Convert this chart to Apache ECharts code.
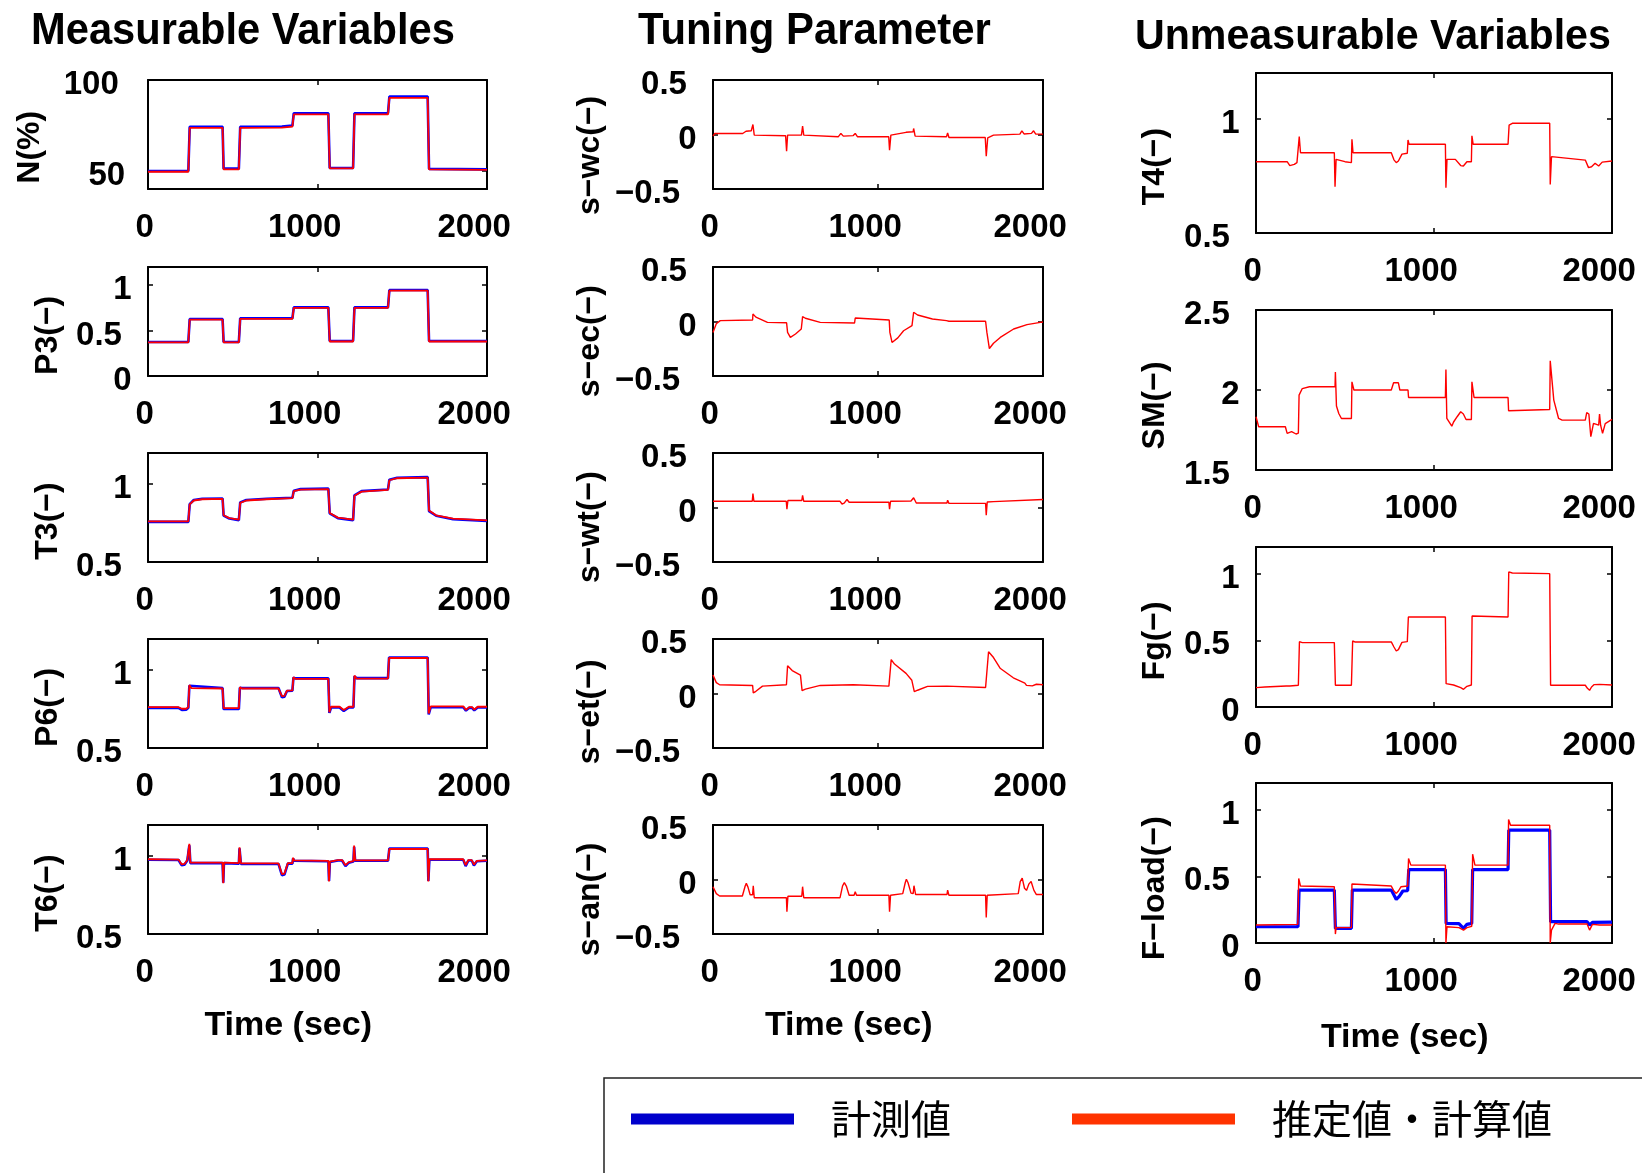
<!DOCTYPE html>
<html><head><meta charset="utf-8">
<script src="https://cdn.jsdelivr.net/npm/echarts@6/dist/echarts.min.js"></script>
<style>html,body{margin:0;padding:0;background:#fff}#c{width:1642px;height:1173px}</style>
</head><body><div id="c"></div>
<script>
// ---------------- DATA (time [s], value) ----------------
const xTicks = [0, 1000, 2000];
const yTicks_N = [50, 100];
const yTicks_P3 = [0, 0.5, 1];
const yTicks_T = [0.5, 1];
const yTicks_S = [-0.5, 0, 0.5];
const yTicks_SM = [1.5, 2, 2.5];
const yTicks_F = [0, 0.5, 1];

const N_est = [[0,49.5],[238,49.5],[246,73.7],[440,73.7],[446,50.8],[536,50.8],[544,73.7],[790,73.8],[800,74.3],[852,74.3],[860,81.1],[1064,81.1],[1072,51.3],[1210,51.3],[1218,81.1],[1416,81.1],[1424,90.2],[1650,90.2],[1658,50.8],[2000,50.5]];
const N_meas = [[0,49.9],[238,49.9],[246,74.3],[440,74.3],[446,51.2],[536,51.2],[544,74.2],[790,74.4],[800,74.9],[852,74.9],[860,81.7],[1064,81.7],[1072,51.6],[1210,51.6],[1218,81.7],[1416,81.7],[1424,90.9],[1650,90.9],[1658,51.1],[2000,50.8]];

const P3_est = [[0,0.37],[238,0.37],[246,0.62],[440,0.62],[446,0.37],[536,0.37],[544,0.63],[852,0.63],[860,0.75],[1064,0.75],[1072,0.38],[1210,0.38],[1218,0.75],[1416,0.75],[1424,0.94],[1650,0.94],[1658,0.38],[2000,0.38]];
const P3_meas = [[0,0.375],[238,0.375],[246,0.627],[440,0.627],[446,0.375],[536,0.375],[544,0.636],[852,0.636],[860,0.756],[1064,0.756],[1072,0.386],[1210,0.386],[1218,0.756],[1416,0.756],[1424,0.946],[1650,0.946],[1658,0.385],[2000,0.385]];

const T3_est = [[0,0.761],[238,0.761],[246,0.87],[270,0.895],[320,0.903],[440,0.906],[446,0.80],[480,0.782],[536,0.772],[544,0.88],[580,0.895],[700,0.903],[852,0.91],[860,0.955],[900,0.965],[1064,0.968],[1072,0.815],[1120,0.785],[1210,0.772],[1218,0.925],[1260,0.952],[1416,0.963],[1424,1.025],[1470,1.038],[1650,1.042],[1658,0.83],[1700,0.80],[1800,0.778],[2000,0.767]];
const T3_meas = [[0,0.758],[238,0.758],[246,0.872],[270,0.898],[320,0.906],[440,0.908],[446,0.798],[480,0.779],[536,0.769],[544,0.883],[580,0.898],[700,0.906],[852,0.913],[860,0.958],[900,0.968],[1064,0.971],[1072,0.812],[1120,0.782],[1210,0.769],[1218,0.928],[1260,0.955],[1416,0.966],[1424,1.028],[1470,1.041],[1650,1.045],[1658,0.827],[1700,0.797],[1800,0.775],[2000,0.764]];

const P6_est = [[0,0.762],[180,0.762],[200,0.752],[225,0.752],[238,0.762],[244,0.905],[255,0.885],[440,0.882],[446,0.756],[536,0.756],[542,0.89],[555,0.882],[770,0.882],[790,0.833],[805,0.835],[820,0.868],[852,0.87],[858,0.955],[870,0.944],[1064,0.944],[1070,0.73],[1080,0.765],[1130,0.765],[1155,0.744],[1185,0.765],[1212,0.765],[1218,0.965],[1230,0.946],[1416,0.946],[1422,1.078],[1650,1.078],[1656,0.722],[1668,0.767],[1860,0.767],[1876,0.745],[1895,0.762],[1912,0.762],[1925,0.747],[1945,0.765],[2000,0.765]];
const P6_meas = [[0,0.758],[180,0.758],[200,0.745],[225,0.746],[238,0.758],[244,0.9],[255,0.888],[440,0.885],[446,0.75],[536,0.75],[542,0.886],[555,0.885],[770,0.885],[790,0.826],[805,0.83],[820,0.866],[852,0.868],[858,0.952],[870,0.947],[1064,0.947],[1070,0.725],[1080,0.76],[1130,0.76],[1155,0.738],[1185,0.76],[1212,0.76],[1218,0.96],[1230,0.949],[1416,0.949],[1422,1.081],[1650,1.081],[1656,0.716],[1668,0.762],[1860,0.762],[1876,0.74],[1895,0.758],[1912,0.758],[1925,0.742],[1945,0.76],[2000,0.76]];

const T6_est = [[0,0.98],[180,0.978],[198,0.948],[215,0.95],[232,0.975],[244,1.079],[250,0.958],[440,0.958],[444,0.826],[448,0.958],[536,0.955],[540,1.057],[548,0.953],[770,0.953],[790,0.885],[805,0.888],[825,0.955],[852,0.955],[856,0.99],[862,0.973],[1064,0.97],[1068,0.837],[1073,0.965],[1120,0.975],[1145,0.975],[1165,0.942],[1185,0.962],[1212,0.968],[1216,1.068],[1222,0.973],[1416,0.973],[1424,1.046],[1650,1.046],[1654,0.837],[1660,0.98],[1860,0.98],[1874,0.942],[1890,0.975],[1910,0.975],[1923,0.945],[1940,0.97],[2000,0.973]];
const T6_meas = [[0,0.977],[180,0.975],[198,0.942],[215,0.945],[232,0.972],[244,1.07],[250,0.955],[440,0.955],[444,0.83],[448,0.955],[536,0.952],[540,1.05],[548,0.95],[770,0.95],[790,0.878],[805,0.882],[825,0.952],[852,0.952],[856,0.985],[862,0.97],[1064,0.967],[1068,0.84],[1073,0.962],[1120,0.972],[1145,0.972],[1165,0.936],[1185,0.958],[1212,0.965],[1216,1.06],[1222,0.97],[1416,0.97],[1424,1.049],[1650,1.049],[1654,0.84],[1660,0.977],[1860,0.977],[1874,0.936],[1890,0.972],[1910,0.972],[1923,0.94],[1940,0.967],[2000,0.97]];

const s_wc = [[0,-0.015],[10,0.009],[180,0.009],[200,0.03],[232,0.034],[242,0.092],[250,-0.006],[440,-0.012],[446,-0.153],[452,-0.006],[536,-0.006],[543,0.077],[550,-0.006],[760,-0.02],[775,0.01],[790,-0.015],[850,-0.01],[862,0.01],[875,-0.02],[1065,-0.02],[1070,-0.144],[1078,-0.006],[1170,0.02],[1213,0.025],[1216,0.055],[1225,-0.015],[1415,-0.02],[1422,0.015],[1430,-0.028],[1650,-0.028],[1656,-0.2],[1665,-0.03],[1700,-0.006],[1860,0.003],[1872,0.034],[1885,0.005],[1930,0.01],[1943,0.034],[1955,0.005],[2000,0.003]];
const s_ec = [[0,-0.1],[20,-0.02],[44,0.008],[240,0.014],[242,0.069],[260,0.04],[330,-0.008],[446,-0.012],[452,-0.1],[469,-0.146],[500,-0.115],[535,-0.069],[543,0.045],[560,0.03],[650,-0.008],[858,-0.014],[862,0.032],[870,0.014],[1068,0.014],[1072,-0.1],[1085,-0.192],[1120,-0.15],[1155,-0.085],[1206,-0.038],[1216,0.085],[1240,0.06],[1330,0.023],[1415,0.008],[1422,0.02],[1430,0.002],[1652,0.002],[1660,-0.1],[1675,-0.248],[1700,-0.2],[1741,-0.146],[1822,-0.069],[1903,-0.029],[1984,-0.008],[2000,-0.005]];
const s_wt = [[0,0.057],[238,0.057],[242,0.127],[248,0.057],[444,0.057],[448,-0.016],[454,0.064],[538,0.064],[543,0.111],[550,0.057],[770,0.057],[782,0.032],[795,0.04],[812,0.073],[825,0.048],[1066,0.048],[1070,-0.016],[1076,0.057],[1200,0.06],[1216,0.089],[1232,0.041],[1418,0.041],[1422,0.067],[1430,0.038],[1652,0.038],[1656,-0.07],[1662,0.05],[1700,0.054],[2000,0.073]];
const s_et = [[0,0.169],[20,0.1],[40,0.08],[240,0.074],[244,0.005],[260,0.02],[300,0.068],[445,0.08],[452,0.254],[480,0.21],[530,0.169],[540,0.027],[560,0.04],[650,0.074],[850,0.08],[860,0.068],[1066,0.068],[1080,0.311],[1100,0.27],[1170,0.185],[1205,0.121],[1220,0.017],[1240,0.03],[1300,0.065],[1418,0.068],[1424,0.055],[1652,0.055],[1670,0.383],[1700,0.33],[1740,0.232],[1820,0.144],[1890,0.096],[1900,0.075],[1935,0.07],[1960,0.085],[2000,0.08]];
const s_an = [[0,-0.066],[20,-0.13],[40,-0.151],[178,-0.151],[195,-0.06],[202,-0.035],[212,-0.07],[225,-0.14],[240,-0.14],[244,-0.057],[250,-0.167],[445,-0.167],[448,-0.296],[454,-0.154],[538,-0.154],[543,-0.066],[550,-0.167],[770,-0.167],[785,-0.06],[796,-0.028],[808,-0.06],[825,-0.145],[855,-0.145],[862,-0.113],[870,-0.145],[1066,-0.145],[1070,-0.296],[1076,-0.145],[1150,-0.13],[1165,-0.03],[1172,0.003],[1182,-0.03],[1200,-0.125],[1213,-0.13],[1218,-0.057],[1228,-0.138],[1418,-0.138],[1422,-0.097],[1430,-0.145],[1652,-0.145],[1656,-0.349],[1662,-0.145],[1850,-0.13],[1862,-0.02],[1874,0.013],[1888,-0.08],[1900,-0.1],[1915,-0.04],[1928,-0.019],[1945,-0.1],[1960,-0.138],[2000,-0.138]];

const T4 = [[0,0.812],[175,0.812],[190,0.795],[200,0.79],[215,0.8],[230,0.808],[240,0.812],[243,0.922],[250,0.851],[440,0.851],[444,0.702],[450,0.822],[500,0.812],[536,0.808],[539,0.91],[545,0.851],[760,0.851],[775,0.82],[788,0.808],[800,0.815],[820,0.845],[850,0.849],[854,0.907],[860,0.888],[1064,0.888],[1067,0.698],[1073,0.822],[1120,0.822],[1150,0.795],[1165,0.793],[1185,0.812],[1210,0.812],[1213,0.925],[1220,0.888],[1416,0.888],[1422,0.972],[1440,0.98],[1650,0.98],[1653,0.712],[1660,0.834],[1850,0.819],[1868,0.786],[1885,0.79],[1905,0.805],[1925,0.793],[1945,0.81],[2000,0.815]];
const SM = [[0,1.833],[15,1.77],[165,1.77],[175,1.729],[200,1.74],[225,1.725],[238,1.73],[242,1.968],[260,2.009],[300,2.02],[444,2.02],[446,2.113],[452,1.9],[465,1.853],[480,1.822],[536,1.822],[539,2.051],[550,2.0],[760,2.0],[773,2.045],[800,2.045],[808,2.0],[854,2.0],[857,1.953],[1064,1.953],[1067,2.128],[1072,1.822],[1100,1.774],[1110,1.8],[1130,1.833],[1150,1.864],[1165,1.85],[1180,1.816],[1210,1.816],[1213,2.051],[1225,1.953],[1416,1.953],[1419,1.87],[1430,1.878],[1650,1.878],[1653,2.182],[1673,1.937],[1700,1.822],[1720,1.812],[1850,1.812],[1858,1.858],[1870,1.85],[1881,1.708],[1896,1.791],[1925,1.78],[1930,1.85],[1936,1.78],[1947,1.729],[1962,1.79],[2000,1.816]];
const Fg = [[0,0.145],[50,0.15],[170,0.158],[180,0.17],[190,0.158],[238,0.163],[244,0.49],[260,0.483],[440,0.483],[446,0.163],[536,0.163],[543,0.495],[555,0.488],[760,0.488],[775,0.45],[788,0.42],[800,0.43],[820,0.485],[850,0.49],[856,0.675],[1064,0.675],[1068,0.175],[1110,0.165],[1150,0.145],[1166,0.133],[1185,0.155],[1210,0.165],[1214,0.683],[1225,0.675],[1416,0.675],[1420,1.013],[1440,1.005],[1650,1.0],[1655,0.163],[1850,0.163],[1862,0.14],[1874,0.125],[1885,0.15],[1900,0.168],[1930,0.17],[2000,0.165]];
const Fload_est = [[0,0.135],[235,0.14],[240,0.484],[250,0.427],[440,0.422],[446,0.067],[450,0.115],[536,0.115],[539,0.442],[550,0.427],[760,0.427],[775,0.39],[788,0.372],[800,0.39],[815,0.422],[852,0.427],[857,0.634],[870,0.584],[1064,0.584],[1067,0],[1073,0.122],[1140,0.115],[1166,0.097],[1185,0.115],[1212,0.125],[1217,0.666],[1230,0.584],[1416,0.584],[1419,0.926],[1430,0.883],[1650,0.883],[1653,0],[1660,0.097],[1680,0.147],[1700,0.142],[1860,0.142],[1874,0.097],[1890,0.14],[1930,0.135],[2000,0.135]];
const Fload_meas = [[0,0.122],[236,0.122],[242,0.397],[440,0.397],[446,0.11],[536,0.11],[541,0.397],[760,0.397],[775,0.36],[788,0.327],[805,0.35],[825,0.39],[852,0.392],[858,0.551],[1064,0.551],[1068,0.147],[1140,0.145],[1166,0.11],[1185,0.14],[1212,0.147],[1217,0.551],[1416,0.551],[1420,0.846],[1650,0.846],[1655,0.16],[1860,0.16],[1874,0.135],[1890,0.155],[2000,0.157]];

const titles = ['Measurable Variables', 'Tuning Parameter', 'Unmeasurable Variables'];
const xName = 'Time (sec)';
const legendNames = ['計測値', '推定値・計算値'];

// ---------------- PANELS ----------------
const panels = [
  {label:'N(%)',   col:0,row:0, yMin:40, yMax:100, yTicks:yTicks_N,  meas:N_meas,  est:N_est},
  {label:'P3(−)',  col:0,row:1, yMin:0,  yMax:1.2, yTicks:yTicks_P3, meas:P3_meas, est:P3_est},
  {label:'T3(−)',  col:0,row:2, yMin:0.5,yMax:1.2, yTicks:yTicks_T,  meas:T3_meas, est:T3_est},
  {label:'P6(−)',  col:0,row:3, yMin:0.5,yMax:1.2, yTicks:yTicks_T,  meas:P6_meas, est:P6_est},
  {label:'T6(−)',  col:0,row:4, yMin:0.5,yMax:1.2, yTicks:yTicks_T,  meas:T6_meas, est:T6_est, last:true},
  {label:'s−wc(−)',col:1,row:0, yMin:-0.5,yMax:0.5,yTicks:yTicks_S, est:s_wc},
  {label:'s−ec(−)',col:1,row:1, yMin:-0.5,yMax:0.5,yTicks:yTicks_S, est:s_ec},
  {label:'s−wt(−)',col:1,row:2, yMin:-0.5,yMax:0.5,yTicks:yTicks_S, est:s_wt},
  {label:'s−et(−)',col:1,row:3, yMin:-0.5,yMax:0.5,yTicks:yTicks_S, est:s_et},
  {label:'s−an(−)',col:1,row:4, yMin:-0.5,yMax:0.5,yTicks:yTicks_S, est:s_an, last:true},
  {label:'T4(−)',  col:2,row:0, yMin:0.5,yMax:1.2, yTicks:yTicks_T,  est:T4},
  {label:'SM(−)',  col:2,row:1, yMin:1.5,yMax:2.5, yTicks:yTicks_SM, est:SM},
  {label:'Fg(−)',  col:2,row:2, yMin:0,  yMax:1.2, yTicks:yTicks_F,  est:Fg},
  {label:'F−load(−)',col:2,row:3,yMin:0, yMax:1.2, yTicks:yTicks_F,  meas:Fload_meas, est:Fload_est, last:true}
];

// ---------------- LAYOUT / STYLE ----------------
const FONT = '"Liberation Sans", Arial, sans-serif';
const CJK = '"Noto Sans CJK JP", sans-serif';
const colLeft = [148, 713, 1256];
const colWidth = [339, 330, 356];
const rowTops = [[80,267,453,639,825],[80,267,453,639,825],[73,310,547,783]];
const rowHeight = [109, 109, 160];
const nameGap = [[102,84,84,84,84],[107,107,107,107,107],[85,85,85,85]];
const xNameGap = [75, 75, 78];
const TICK = 33, NAME = 32;
const titlePos = [{x:31, y:32, size:45, sx:0.926}, {x:638, y:32, size:45, sx:0.93}, {x:1135, y:37, size:42, sx:0.98}];

const cv = document.createElement('canvas').getContext('2d');
function tw(t, size){ cv.font = 'bold ' + size + 'px ' + FONT; return cv.measureText(t).width; }
function fmt(v){ return String(v).replace('-', '−'); }
function key(p, s){ return p + s.replace(/−/g,'m').replace(/\./g,'d'); }

const richY = {}, richX = {};
[yTicks_N,yTicks_P3,yTicks_T,yTicks_S,yTicks_SM,yTicks_F].forEach(a => a.forEach(v => {
  const s = fmt(v);
  richY[key('y',s)] = {fontFamily:FONT, fontWeight:'bold', fontSize:TICK, color:'#000', padding:[10, 0.35*tw(s,TICK), 0, 0]};
}));
xTicks.forEach(v => { const s = fmt(v);
  richX[key('x',s)] = {fontFamily:FONT, fontWeight:'bold', fontSize:TICK, color:'#000', padding:[0, 0.35*tw(s,TICK), 0, 0]};
});

const axisLine = {show:true, onZero:false, lineStyle:{color:'#000', width:2}};
const grid = [], xAxis = [], yAxis = [], series = [];
panels.forEach((p, i) => {
  grid.push({left:colLeft[p.col], top:rowTops[p.col][p.row], width:colWidth[p.col], height:rowHeight[p.col]});
  const xb = {type:'value', gridIndex:i, position:'bottom', min:0, max:2000, interval:1000,
    axisLine, axisTick:{inside:true, length:5, lineStyle:{color:'#000', width:1.5}},
    splitLine:{show:false},
    axisLabel:{margin:22, formatter: v => '{' + key('x', fmt(v)) + '|' + fmt(v) + '}', rich:richX}};
  if (p.last) {
    xb.name = xName; xb.nameLocation = 'middle'; xb.nameGap = xNameGap[p.col];
    xb.nameTextStyle = {fontFamily:FONT, fontWeight:'bold', fontSize:34, color:'#000', padding:[0, 0.35*tw(xName,34), 0, 0]};
  }
  xAxis.push(xb);
  xAxis.push({type:'value', gridIndex:i, position:'top', min:0, max:2000, interval:1000,
    axisLine, axisTick:{inside:true, length:5, lineStyle:{color:'#000', width:1.5}},
    axisLabel:{show:false}, splitLine:{show:false}});
  yAxis.push({type:'value', gridIndex:i, position:'left', min:p.yMin, max:p.yMax,
    axisLine, splitLine:{show:false},
    axisTick:{inside:true, length:5, customValues:p.yTicks, lineStyle:{color:'#000', width:1.5}},
    axisLabel:{margin:10, customValues:p.yTicks, formatter: v => '{' + key('y', fmt(v)) + '|' + fmt(v) + '}', rich:richY},
    name:p.label, nameLocation:'middle', nameGap:nameGap[p.col][p.row], nameRotate:90,
    nameTextStyle:{fontFamily:FONT, fontWeight:'bold', fontSize:NAME, color:'#000', padding:[0, 0.35*tw(p.label,NAME), 0, 0]}});
  yAxis.push({type:'value', gridIndex:i, position:'right', min:p.yMin, max:p.yMax,
    axisLine, splitLine:{show:false}, axisLabel:{show:false},
    axisTick:{inside:true, length:5, customValues:p.yTicks, lineStyle:{color:'#000', width:1.5}}});
  const thick = p.col === 0;
  if (p.meas) series.push({type:'line', name:legendNames[0], xAxisIndex:2*i, yAxisIndex:2*i, data:p.meas,
    showSymbol:false, symbol:'none', lineStyle:{color:'#0000ff', width: p.col===2 ? 3.2 : 2.6}, itemStyle:{color:'#0000ff'}, z:2});
  series.push({type:'line', name:legendNames[1], xAxisIndex:2*i, yAxisIndex:2*i, data:p.est,
    showSymbol:false, symbol:'none', lineStyle:{color:'#ff0000', width: thick ? 1.8 : 1.4}, itemStyle:{color:'#ff0000'}, z:3});
});

const graphic = titles.map((t, k) => ({
  type:'text', silent:true, x:titlePos[k].x, y:titlePos[k].y, scaleX:titlePos[k].sx, scaleY:1,
  style:{text:t, fill:'#000', fontFamily:FONT, fontWeight:'bold', fontSize:titlePos[k].size, align:'left', verticalAlign:'middle'}
}));
graphic.push({type:'rect', silent:true, shape:{x:604, y:1078, width:1200, height:300}, style:{fill:'none', stroke:'#222', lineWidth:1.5}});

const option = {
  backgroundColor:'#fff',
  animation:false,
  legend:{
    data:[{name:legendNames[0], itemStyle:{color:'#0000cc'}}, {name:legendNames[1], itemStyle:{color:'#ff3300'}}],
    icon:'rect', itemWidth:163, itemHeight:11, itemGap:121, left:631, top:1099, padding:0,
    selectedMode:false,
    textStyle:{fontFamily:CJK, fontSize:40, color:'#000', padding:[0,0,6,32]}
  },
  graphic, grid, xAxis, yAxis, series
};
const chart = echarts.init(document.getElementById('c'), null, {renderer:'canvas'});
chart.setOption(option);
</script></body></html>
